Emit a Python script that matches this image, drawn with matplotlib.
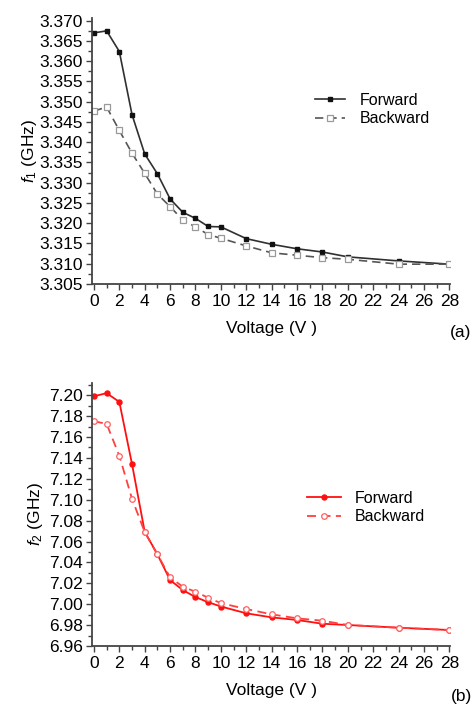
import matplotlib
matplotlib.use("Agg")
import matplotlib.pyplot as plt
from matplotlib.ticker import MultipleLocator, FormatStrFormatter

plt.rcParams['font.family'] = ['Liberation Sans', 'DejaVu Sans']
plt.rcParams['mathtext.fontset'] = 'custom'
plt.rcParams['mathtext.rm'] = 'Liberation Sans'
plt.rcParams['mathtext.it'] = 'Liberation Sans:italic'

voltage = [0, 1, 2, 3, 4, 5, 6, 7, 8, 9, 10, 12, 14, 16, 18, 20, 24, 28]

f1_forward = [3.3670, 3.3675, 3.3624, 3.3468, 3.3371, 3.3322, 3.3260, 3.3227, 3.3212,
              3.3192, 3.3191, 3.3162, 3.3148, 3.3137, 3.3129, 3.3117, 3.3107, 3.3099]
f1_backward = [3.3477, 3.3487, 3.3429, 3.3373, 3.3323, 3.3272, 3.3241, 3.3208, 3.3191,
               3.3172, 3.3163, 3.3144, 3.3127, 3.3121, 3.3115, 3.3111, 3.3099, 3.3099]

f2_forward = [7.199, 7.202, 7.1936, 7.134, 7.0693, 7.0477, 7.0231, 7.0135, 7.0068,
              7.0019, 6.9978, 6.9913, 6.9874, 6.9849, 6.9813, 6.9801, 6.9775, 6.9753]
f2_backward = [7.1751, 7.1726, 7.142, 7.1008, 7.069, 7.0477, 7.0257, 7.0167, 7.0119,
               7.0062, 7.0010, 6.9954, 6.9903, 6.9865, 6.9842, 6.9801, 6.9775, 6.9753]

series_labels = ["Forward", "Backward"]
x_label = "Voltage (V )"
y_labels = ["$f_1$ (GHz)", "$f_2$ (GHz)"]
panel_tags = ["(a)", "(b)"]

W, H = 476, 708
fig = plt.figure(figsize=(W / 100, H / 100), dpi=100)

def px_axes(left, top, right, bottom):
    return fig.add_axes([left / W, 1 - bottom / H, (right - left) / W, (bottom - top) / H])

ax1 = px_axes(92.3, 17.5, 450, 284)
ax2 = px_axes(92.3, 382.7, 450, 646)

spine_col = '#444444'
fs = 12.5

def style(ax, ymin, ymax, major, minor, fmt):
    ax.set_xlim(-0.13, 28.05)
    ax.set_ylim(ymin, ymax)
    for s in ['top', 'right']:
        ax.spines[s].set_visible(False)
    for s in ['left', 'bottom']:
        ax.spines[s].set_color(spine_col)
        ax.spines[s].set_linewidth(1.3)
    ax.xaxis.set_major_locator(MultipleLocator(2))
    ax.xaxis.set_minor_locator(MultipleLocator(1))
    ax.yaxis.set_major_locator(MultipleLocator(major))
    ax.yaxis.set_minor_locator(MultipleLocator(minor))
    ax.yaxis.set_major_formatter(FormatStrFormatter(fmt))
    ax.tick_params(axis='both', which='major', direction='out', length=4, width=1.0,
                   color=spine_col, labelsize=fs, pad=3)
    ax.tick_params(axis='both', which='minor', direction='out', length=3, width=1.0,
                   color=spine_col)
    ax.set_xlabel(x_label, fontsize=fs, labelpad=9)

# Panel (a)
style(ax1, 3.305, 3.3708, 0.005, 0.0025, '%.3f')
ax1.plot(voltage, f1_forward, '-', color='#303030', lw=1.2, marker='s', ms=3.3,
         mfc='#111111', mec='#111111', label=series_labels[0])
ax1.plot(voltage, f1_backward, '--', color='#555555', lw=1.2, dashes=(5, 3), marker='s', ms=3.8,
         mfc='white', mec='#999999', mew=0.9, label=series_labels[1])
ax1.set_ylabel(y_labels[0], fontsize=fs, labelpad=0)
leg1 = ax1.legend(loc='upper left', bbox_to_anchor=(315 / W, 1 - 93 / H),
                  bbox_transform=fig.transFigure, frameon=False, fontsize=11.5,
                  handlelength=1.9, handletextpad=0.9, labelspacing=0.2, borderpad=0,
                  borderaxespad=0)

# Panel (b)
style(ax2, 6.96, 7.212, 0.02, 0.01, '%.2f')
red = '#ff1010'
ax2.plot(voltage, f2_forward, '-', color=red, lw=1.3, marker='o', ms=3.6,
         mfc=red, mec=red, label=series_labels[0])
ax2.plot(voltage, f2_backward, '--', color='#ff4040', lw=1.3, dashes=(5, 3), marker='o', ms=4.0,
         mfc='white', mec='#ff6060', mew=0.9, label=series_labels[1])
ax2.set_ylabel(y_labels[1], fontsize=fs, labelpad=2.5)
leg2 = ax2.legend(loc='upper left', bbox_to_anchor=(307 / W, 1 - 491 / H),
                  bbox_transform=fig.transFigure, frameon=False, fontsize=11.5,
                  handlelength=2.1, handletextpad=0.9, labelspacing=0.2, borderpad=0,
                  borderaxespad=0)

fig.text(461 / W, 1 - 332 / H, panel_tags[0], fontsize=fs, ha='center', va='center')
fig.text(461 / W, 1 - 696 / H, panel_tags[1], fontsize=fs, ha='center', va='center')

fig.savefig('out.png', dpi=100)
